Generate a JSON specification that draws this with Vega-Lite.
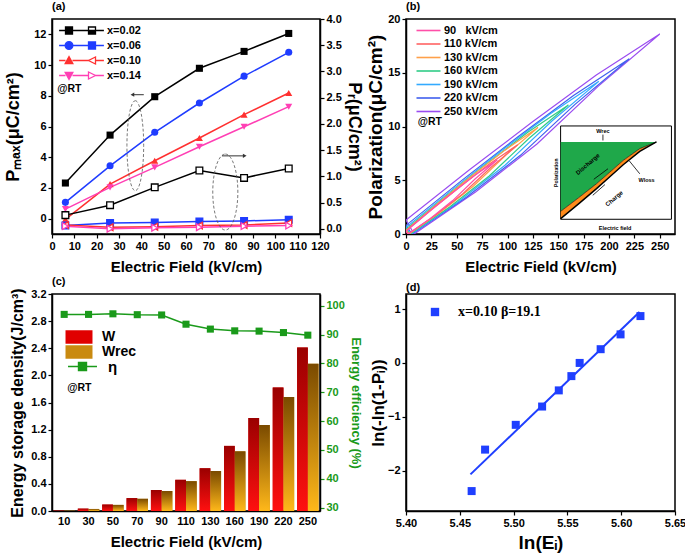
{
  "$schema": "https://vega.github.io/schema/vega-lite/v6.json",
  "padding": {"left": 4, "top": 0, "right": 5, "bottom": 0},
  "background": "white",
  "config": {
    "font": "Liberation Sans",
    "view": {"stroke": "black", "strokeWidth": 1.5},
    "axis": {"grid": false, "domainColor": "black", "domainWidth": 1.5, "tickColor": "black", "tickWidth": 1.2, "tickSize": 4, "labelFont": "Liberation Sans", "labelFontWeight": "bold", "labelFontSize": 11, "labelColor": "black", "labelPadding": 2, "labelFlush": false, "labelOverlap": false, "titleFont": "Liberation Sans", "titleFontWeight": "bold", "titleColor": "black", "titleFontSize": 15},
    "legend": {"labelFont": "Liberation Sans", "labelFontWeight": "bold", "labelFontSize": 11, "labelColor": "black", "padding": 0},
    "title": {"font": "Liberation Sans", "fontWeight": "bold", "fontSize": 11, "anchor": "start", "offset": 1, "frame": "group"},
    "point": {"opacity": 1}
  },
  "datasets": {
    "a": [
      {"s": "x=0.02", "E": 6, "Pmax": 2.32, "Pr": 0.26},
      {"s": "x=0.02", "E": 26, "Pmax": 5.44, "Pr": 0.45},
      {"s": "x=0.02", "E": 46, "Pmax": 7.94, "Pr": 0.79},
      {"s": "x=0.02", "E": 66, "Pmax": 9.79, "Pr": 1.11},
      {"s": "x=0.02", "E": 86, "Pmax": 10.89, "Pr": 0.97},
      {"s": "x=0.02", "E": 106, "Pmax": 12.06, "Pr": 1.15},
      {"s": "x=0.06", "E": 6, "Pmax": 1.06, "Pr": 0.06},
      {"s": "x=0.06", "E": 26, "Pmax": 3.44, "Pr": 0.11},
      {"s": "x=0.06", "E": 46, "Pmax": 5.62, "Pr": 0.12},
      {"s": "x=0.06", "E": 66, "Pmax": 7.53, "Pr": 0.14},
      {"s": "x=0.06", "E": 86, "Pmax": 9.28, "Pr": 0.15},
      {"s": "x=0.06", "E": 106, "Pmax": 10.83, "Pr": 0.17},
      {"s": "x=0.10", "E": 6, "Pmax": -0.05, "Pr": 0.07},
      {"s": "x=0.10", "E": 26, "Pmax": 2.25, "Pr": 0.03},
      {"s": "x=0.10", "E": 46, "Pmax": 3.77, "Pr": 0.04},
      {"s": "x=0.10", "E": 66, "Pmax": 5.25, "Pr": 0.06},
      {"s": "x=0.10", "E": 86, "Pmax": 6.77, "Pr": 0.07},
      {"s": "x=0.10", "E": 106, "Pmax": 8.18, "Pr": 0.11},
      {"s": "x=0.14", "E": 6, "Pmax": 0.62, "Pr": 0.05},
      {"s": "x=0.14", "E": 26, "Pmax": 2.04, "Pr": 0.0},
      {"s": "x=0.14", "E": 46, "Pmax": 3.34, "Pr": 0.02},
      {"s": "x=0.14", "E": 66, "Pmax": 4.68, "Pr": 0.03},
      {"s": "x=0.14", "E": 86, "Pmax": 5.98, "Pr": 0.05},
      {"s": "x=0.14", "E": 106, "Pmax": 7.29, "Pr": 0.06}
    ],
    "loops": [
      {"L": "250 kV/cm", "i": 0, "E": 250, "P": 18.6}, {"L": "250 kV/cm", "i": 1, "E": 187.5, "P": 14.79}, {"L": "250 kV/cm", "i": 2, "E": 125, "P": 10.47}, {"L": "250 kV/cm", "i": 3, "E": 62.5, "P": 5.97}, {"L": "250 kV/cm", "i": 4, "E": 0, "P": 1.3},
      {"L": "250 kV/cm", "i": 5, "E": 8, "P": 0}, {"L": "250 kV/cm", "i": 6, "E": 68.5, "P": 3.9}, {"L": "250 kV/cm", "i": 7, "E": 129, "P": 8.37}, {"L": "250 kV/cm", "i": 8, "E": 189.5, "P": 13.76}, {"L": "250 kV/cm", "i": 9, "E": 250, "P": 18.6},
      {"L": "220 kV/cm", "i": 0, "E": 220, "P": 16.3}, {"L": "220 kV/cm", "i": 1, "E": 165, "P": 12.89}, {"L": "220 kV/cm", "i": 2, "E": 110, "P": 9.02}, {"L": "220 kV/cm", "i": 3, "E": 55, "P": 4.99}, {"L": "220 kV/cm", "i": 4, "E": 0, "P": 0.8},
      {"L": "220 kV/cm", "i": 5, "E": 6, "P": 0}, {"L": "220 kV/cm", "i": 6, "E": 59.5, "P": 3.42}, {"L": "220 kV/cm", "i": 7, "E": 113, "P": 7.34}, {"L": "220 kV/cm", "i": 8, "E": 166.5, "P": 12.06}, {"L": "220 kV/cm", "i": 9, "E": 220, "P": 16.3},
      {"L": "190 kV/cm", "i": 0, "E": 190, "P": 14.2}, {"L": "190 kV/cm", "i": 1, "E": 142.5, "P": 11.21}, {"L": "190 kV/cm", "i": 2, "E": 95, "P": 7.81}, {"L": "190 kV/cm", "i": 3, "E": 47.5, "P": 4.27}, {"L": "190 kV/cm", "i": 4, "E": 0, "P": 0.6},
      {"L": "190 kV/cm", "i": 5, "E": 5, "P": 0}, {"L": "190 kV/cm", "i": 6, "E": 51.25, "P": 2.98}, {"L": "190 kV/cm", "i": 7, "E": 97.5, "P": 6.39}, {"L": "190 kV/cm", "i": 8, "E": 143.75, "P": 10.51}, {"L": "190 kV/cm", "i": 9, "E": 190, "P": 14.2},
      {"L": "160 kV/cm", "i": 0, "E": 160, "P": 12.0}, {"L": "160 kV/cm", "i": 1, "E": 120, "P": 9.46}, {"L": "160 kV/cm", "i": 2, "E": 80, "P": 6.57}, {"L": "160 kV/cm", "i": 3, "E": 40, "P": 3.57}, {"L": "160 kV/cm", "i": 4, "E": 0, "P": 0.45},
      {"L": "160 kV/cm", "i": 5, "E": 4, "P": 0}, {"L": "160 kV/cm", "i": 6, "E": 43, "P": 2.52}, {"L": "160 kV/cm", "i": 7, "E": 82, "P": 5.4}, {"L": "160 kV/cm", "i": 8, "E": 121, "P": 8.88}, {"L": "160 kV/cm", "i": 9, "E": 160, "P": 12.0},
      {"L": "130 kV/cm", "i": 0, "E": 130, "P": 9.9}, {"L": "130 kV/cm", "i": 1, "E": 97.5, "P": 7.8}, {"L": "130 kV/cm", "i": 2, "E": 65, "P": 5.41}, {"L": "130 kV/cm", "i": 3, "E": 32.5, "P": 2.93}, {"L": "130 kV/cm", "i": 4, "E": 0, "P": 0.35},
      {"L": "130 kV/cm", "i": 5, "E": 3, "P": 0}, {"L": "130 kV/cm", "i": 6, "E": 34.75, "P": 2.08}, {"L": "130 kV/cm", "i": 7, "E": 66.5, "P": 4.46}, {"L": "130 kV/cm", "i": 8, "E": 98.25, "P": 7.33}, {"L": "130 kV/cm", "i": 9, "E": 130, "P": 9.9},
      {"L": "110 kV/cm", "i": 0, "E": 110, "P": 8.3}, {"L": "110 kV/cm", "i": 1, "E": 82.5, "P": 6.54}, {"L": "110 kV/cm", "i": 2, "E": 55, "P": 4.54}, {"L": "110 kV/cm", "i": 3, "E": 27.5, "P": 2.46}, {"L": "110 kV/cm", "i": 4, "E": 0, "P": 0.3},
      {"L": "110 kV/cm", "i": 5, "E": 2, "P": 0}, {"L": "110 kV/cm", "i": 6, "E": 29, "P": 1.74}, {"L": "110 kV/cm", "i": 7, "E": 56, "P": 3.74}, {"L": "110 kV/cm", "i": 8, "E": 83, "P": 6.14}, {"L": "110 kV/cm", "i": 9, "E": 110, "P": 8.3},
      {"L": "90\u2007 kV/cm", "i": 0, "E": 90, "P": 6.9}, {"L": "90\u2007 kV/cm", "i": 1, "E": 67.5, "P": 5.44}, {"L": "90\u2007 kV/cm", "i": 2, "E": 45, "P": 3.77}, {"L": "90\u2007 kV/cm", "i": 3, "E": 22.5, "P": 2.05}, {"L": "90\u2007 kV/cm", "i": 4, "E": 0, "P": 0.25},
      {"L": "90\u2007 kV/cm", "i": 5, "E": 2, "P": 0}, {"L": "90\u2007 kV/cm", "i": 6, "E": 24, "P": 1.45}, {"L": "90\u2007 kV/cm", "i": 7, "E": 46, "P": 3.11}, {"L": "90\u2007 kV/cm", "i": 8, "E": 68, "P": 5.11}, {"L": "90\u2007 kV/cm", "i": 9, "E": 90, "P": 6.9}
    ],
    "inset": [
      {"E": 152.4, "up": 2.11, "lo": 1.43},
      {"E": 170, "up": 3.37, "lo": 2.8},
      {"E": 187.7, "up": 4.68, "lo": 4.22},
      {"E": 200, "up": 5.69, "lo": 5.26},
      {"E": 214, "up": 6.85, "lo": 6.45},
      {"E": 230.3, "up": 7.94, "lo": 7.69},
      {"E": 246.7, "up": 8.56, "lo": 8.56}
    ],
    "insetText": [
      {"t": "Wrec", "E": 194, "P": 9.55},
      {"t": "Wloss", "E": 237, "P": 5.0},
      {"t": "Electric field", "E": 206, "P": 0.55}
    ],
    "insetArrows": [
      {"x1": 194, "y1": 9.25, "x2": 194, "y2": 8.7},
      {"x1": 199, "y1": 6.07, "x2": 185, "y2": 5.09},
      {"x1": 184, "y1": 3.6, "x2": 196, "y2": 4.6},
      {"x1": 230.3, "y1": 5.6, "x2": 220, "y2": 6.8}
    ],
    "c": [
      {"E": "10", "s": "W", "v": 0.005}, {"E": "30", "s": "W", "v": 0.035}, {"E": "50", "s": "W", "v": 0.095}, {"E": "70", "s": "W", "v": 0.19}, {"E": "90", "s": "W", "v": 0.31}, {"E": "110", "s": "W", "v": 0.46}, {"E": "130", "s": "W", "v": 0.63}, {"E": "160", "s": "W", "v": 0.96}, {"E": "190", "s": "W", "v": 1.37}, {"E": "220", "s": "W", "v": 1.82}, {"E": "250", "s": "W", "v": 2.41},
      {"E": "10", "s": "Wrec", "v": 0.004}, {"E": "30", "s": "Wrec", "v": 0.03}, {"E": "50", "s": "Wrec", "v": 0.09}, {"E": "70", "s": "Wrec", "v": 0.18}, {"E": "90", "s": "Wrec", "v": 0.295}, {"E": "110", "s": "Wrec", "v": 0.44}, {"E": "130", "s": "Wrec", "v": 0.59}, {"E": "160", "s": "Wrec", "v": 0.88}, {"E": "190", "s": "Wrec", "v": 1.27}, {"E": "220", "s": "Wrec", "v": 1.68}, {"E": "250", "s": "Wrec", "v": 2.17}
    ],
    "eta": [
      {"E": "10", "eta": 97.0}, {"E": "30", "eta": 97.0}, {"E": "50", "eta": 97.2}, {"E": "70", "eta": 96.9}, {"E": "90", "eta": 96.8}, {"E": "110", "eta": 93.6}, {"E": "130", "eta": 91.9}, {"E": "160", "eta": 91.3}, {"E": "190", "eta": 91.2}, {"E": "220", "eta": 90.7}, {"E": "250", "eta": 89.8}
    ],
    "dpts": [
      {"x": 5.461, "y": -2.38}, {"x": 5.4735, "y": -1.61}, {"x": 5.502, "y": -1.15}, {"x": 5.5265, "y": -0.81}, {"x": 5.542, "y": -0.51}, {"x": 5.5537, "y": -0.245}, {"x": 5.5614, "y": 0.0}, {"x": 5.5809, "y": 0.255}, {"x": 5.5994, "y": 0.53}, {"x": 5.6179, "y": 0.87}
    ],
    "dfit": [
      {"x": 5.4599, "y": -2.07}, {"x": 5.617, "y": 0.946}
    ]
  },
  "columns": 2,
  "bounds": "flush",
  "align": "each",
  "spacing": {"row": 60, "column": 86},
  "resolve": {
    "scale": {"color": "independent", "fill": "independent", "stroke": "independent", "shape": "independent", "xOffset": "independent"},
    "legend": {"color": "independent", "fill": "independent", "stroke": "independent", "shape": "independent"}
  },
  "concat": [
    {
      "width": 268, "height": 215,
      "title": {"text": "(a)"},
      "layer": [
        {
          "data": {"name": "a"},
          "layer": [
            {"mark": {"type": "line", "strokeWidth": 1.5},
             "encoding": {
               "x": {"field": "E", "type": "quantitative", "scale": {"domain": [0, 120], "nice": false}, "axis": {"values": [0,10,20,30,40,50,60,70,80,90,100,110,120], "format": "d", "tickCount": 40, "labelOverlap": false, "title": "Electric Field (kV/cm)", "titlePadding": 8}},
               "y": {"field": "Pmax", "type": "quantitative", "scale": {"domain": [-1, 13], "nice": false}, "axis": {"values": [0,2,4,6,8,10,12], "format": "d", "tickCount": 40, "labelOverlap": false, "title": "Pₘₐₓ(μC/cm²)", "titleFontSize": 18, "titlePadding": 11}},
               "color": {"field": "s", "type": "nominal", "scale": {"domain": ["x=0.02","x=0.06","x=0.10","x=0.14"], "range": ["#000000","#1f3cff","#ff3030","#ff3fb4"]}, "legend": null}}},
            {"mark": {"type": "point", "filled": true, "size": 50, "opacity": 1},
             "encoding": {
               "x": {"field": "E", "type": "quantitative"},
               "y": {"field": "Pmax", "type": "quantitative"},
               "color": {"field": "s", "type": "nominal", "legend": null},
               "shape": {"field": "s", "type": "nominal", "scale": {"domain": ["x=0.02","x=0.06","x=0.10","x=0.14"], "range": ["square","circle","triangle-up","triangle-down"]}, "legend": null}}},
            {"data": {"values": [{}]},
             "mark": {"type": "point", "shape": "M 0 -1 A 0.186 1 0 0 1 0 1 A 0.186 1 0 0 1 0 -1 Z", "size": 8100, "filled": false, "color": "#555555", "strokeWidth": 0.8, "strokeDash": [3, 2], "opacity": 1},
             "encoding": {"x": {"datum": 37.3, "type": "quantitative"}, "y": {"datum": 4.75, "type": "quantitative"}}},
            {"data": {"values": [{}]},
             "mark": {"type": "rule", "color": "#333333", "strokeWidth": 1},
             "encoding": {"x": {"datum": 41.1, "type": "quantitative"}, "x2": {"datum": 36.6}, "y": {"datum": 8.07, "type": "quantitative"}}},
            {"data": {"values": [{}]},
             "mark": {"type": "point", "shape": "triangle-left", "size": 18, "filled": true, "color": "#333333", "opacity": 1},
             "encoding": {"x": {"datum": 36.0, "type": "quantitative"}, "y": {"datum": 8.07, "type": "quantitative"}}},
            {"data": {"values": [{}]},
             "mark": {"type": "text", "text": "@RT", "align": "left", "baseline": "middle", "fontWeight": "bold", "fontSize": 10.5},
             "encoding": {"x": {"datum": 2.3, "type": "quantitative"}, "y": {"datum": 8.44, "type": "quantitative"}}}
          ]
        },
        {
          "data": {"name": "a"},
          "layer": [
            {"mark": {"type": "line", "strokeWidth": 1.5},
             "encoding": {
               "x": {"field": "E", "type": "quantitative"},
               "y": {"field": "Pr", "type": "quantitative", "scale": {"domain": [-0.1, 4.0], "nice": false}, "axis": {"orient": "right", "values": [0,0.5,1,1.5,2,2.5,3,3.5,4], "tickCount": 40, "labelOverlap": false, "format": ".1f", "title": "Pᵣ(μC/cm²)", "titleFontSize": 18, "titlePadding": 3}},
               "color": {"field": "s", "type": "nominal", "legend": null}}},
            {"mark": {"type": "point", "filled": true, "size": 45, "strokeWidth": 1.3, "opacity": 1},
             "encoding": {
               "x": {"field": "E", "type": "quantitative"},
               "y": {"field": "Pr", "type": "quantitative"},
               "fill": {"field": "s", "type": "nominal", "scale": {"domain": ["x=0.02","x=0.06","x=0.10","x=0.14"], "range": ["#ffffff","#1f3cff","#ffffff","#ffffff"]}, "legend": null},
               "stroke": {"field": "s", "type": "nominal", "scale": {"domain": ["x=0.02","x=0.06","x=0.10","x=0.14"], "range": ["#000000","#1f3cff","#ff3030","#ff3fb4"]}, "legend": null},
               "shape": {"field": "s", "type": "nominal", "scale": {"domain": ["x=0.02","x=0.06","x=0.10","x=0.14"], "range": ["square","square","triangle-left","triangle-right"]}, "legend": null}}},
            {"data": {"values": [{}]},
             "mark": {"type": "point", "shape": "M 0 -1 A 0.33 1 0 0 1 0 1 A 0.33 1 0 0 1 0 -1 Z", "size": 5776, "filled": false, "color": "#555555", "strokeWidth": 0.8, "strokeDash": [3, 2], "opacity": 1},
             "encoding": {"x": {"datum": 77.6, "type": "quantitative"}, "y": {"datum": 0.70, "type": "quantitative"}}},
            {"data": {"values": [{}]},
             "mark": {"type": "rule", "color": "#333333", "strokeWidth": 1},
             "encoding": {"x": {"datum": 76.1, "type": "quantitative"}, "x2": {"datum": 85.8}, "y": {"datum": 1.39, "type": "quantitative"}}},
            {"data": {"values": [{}]},
             "mark": {"type": "point", "shape": "triangle-right", "size": 18, "filled": true, "color": "#333333", "opacity": 1},
             "encoding": {"x": {"datum": 86.3, "type": "quantitative"}, "y": {"datum": 1.39, "type": "quantitative"}}}
          ]
        },
        {
          "data": {"name": "a"},
          "mark": {"type": "point", "filled": true, "opacity": 0, "size": 49},
          "encoding": {
            "x": {"field": "E", "type": "quantitative"},
            "y": {"field": "Pmax", "type": "quantitative", "scale": {"domain": [-1, 13], "nice": false}, "axis": null},
            "fill": {"field": "s", "type": "nominal", "scale": {"domain": ["x=0.02","x=0.06","x=0.10","x=0.14"], "range": ["#000000","#1f3cff","#ff3030","#ff3fb4"]},
              "legend": {"orient": "none", "legendX": 24, "legendY": 6, "title": null, "symbolOpacity": 1, "symbolStrokeWidth": 1.3, "symbolSize": 49, "labelOffset": 20, "rowPadding": 2, "labelFontSize": 11}},
            "stroke": {"field": "s", "type": "nominal", "scale": {"domain": ["x=0.02","x=0.06","x=0.10","x=0.14"], "range": ["#000000","#1f3cff","#ff3030","#ff3fb4"]},
              "legend": {"orient": "none", "legendX": 24, "legendY": 6, "title": null, "symbolOpacity": 1, "symbolStrokeWidth": 1.3, "symbolSize": 49, "labelOffset": 20, "rowPadding": 2, "labelFontSize": 11}},
            "shape": {"field": "s", "type": "nominal", "scale": {"domain": ["x=0.02","x=0.06","x=0.10","x=0.14"], "range": [
              "M -6.4 0 H -4.57 M -2.57 0 H 2 M 4 0 H 6.4 M -4.57 -1 H -2.57 V 1 H -4.57 Z M 2 0 H 4 V 1 H 2 Z M 2 -1 H 4 V 0 H 2 Z M 2 -1 V 0 H 4 V -1 Z",
              "M -6.4 0 H -4.67 M -2.47 0 H 2 M 4 0 H 6.4 M -4.67 0 A 1.1 1.1 0 1 0 -2.47 0 A 1.1 1.1 0 1 0 -4.67 0 Z M 2 -1 H 4 V 1 H 2 Z",
              "M -6.4 0 H -4.57 M -2.57 0 H 2 M 4 0 H 6.4 M -3.57 -1.1 L -2.47 0.9 H -4.67 Z M 2 0 L 4 -1 V 1 Z M 2 0 L 4 1 V -1 Z",
              "M -6.4 0 H -4.57 M -2.57 0 H 2 M 4 0 H 6.4 M -4.67 -0.9 H -2.47 L -3.57 1.1 Z M 4 0 L 2 -1 V 1 Z M 4 0 L 2 1 V -1 Z"
            ]},
              "legend": {"orient": "none", "legendX": 24, "legendY": 6, "title": null, "symbolOpacity": 1, "symbolStrokeWidth": 1.3, "symbolSize": 49, "labelOffset": 20, "rowPadding": 2, "labelFontSize": 11}}
          }
        }
      ],
      "resolve": {"scale": {"y": "independent", "shape": "independent", "fill": "independent", "stroke": "independent"}}
    },
    {
      "width": 269, "height": 215,
      "title": {"text": "(b)"},
      "layer": [
        {"data": {"name": "loops"},
         "mark": {"type": "line", "strokeWidth": 1.2, "clip": true},
         "encoding": {
           "x": {"field": "E", "type": "quantitative", "scale": {"domain": [0, 265], "nice": false}, "axis": {"values": [0,25,50,75,100,125,150,175,200,225,250], "format": "d", "tickCount": 40, "labelOverlap": false, "title": "Electric Field (kV/cm)", "titlePadding": 8}},
           "y": {"field": "P", "type": "quantitative", "scale": {"domain": [0, 20], "nice": false}, "axis": {"values": [0,5,10,15,20], "format": "d", "tickCount": 40, "labelOverlap": false, "title": "Polarization(μC/cm²)", "titleFontSize": 19, "titlePadding": 2}},
           "color": {"field": "L", "type": "nominal",
             "scale": {"domain": ["90\u2007 kV/cm","110 kV/cm","130 kV/cm","160 kV/cm","190 kV/cm","220 kV/cm","250 kV/cm"], "range": ["#ff4fa8","#ff6262","#ffa04a","#30cc88","#33aaff","#4060ee","#9a4cf0"]},
             "legend": {"orient": "none", "legendX": 17, "legendY": 6, "title": null, "symbolType": "M -3 0 H 3", "symbolSize": 64, "symbolStrokeWidth": 1.6, "labelOffset": 10, "rowPadding": 1.5, "labelFontSize": 11}},
           "order": {"field": "i", "type": "quantitative"}}},
        {"data": {"values": [{}]},
         "mark": {"type": "rect", "fill": "white", "stroke": "black", "strokeWidth": 1},
         "encoding": {"x": {"datum": 152.3, "type": "quantitative"}, "x2": {"datum": 261.5}, "y": {"datum": 1.37, "type": "quantitative"}, "y2": {"datum": 10.05}}},
        {"data": {"name": "inset"},
         "mark": {"type": "area", "color": "#1fa84a", "opacity": 1},
         "encoding": {"x": {"field": "E", "type": "quantitative"}, "y": {"field": "up", "type": "quantitative"}, "y2": {"datum": 8.56}}},
        {"data": {"name": "inset"},
         "mark": {"type": "area", "color": "#ff8a1a", "opacity": 1},
         "encoding": {"x": {"field": "E", "type": "quantitative"}, "y": {"field": "lo", "type": "quantitative"}, "y2": {"field": "up"}}},
        {"data": {"name": "inset"},
         "mark": {"type": "line", "color": "black", "strokeWidth": 1.4},
         "encoding": {"x": {"field": "E", "type": "quantitative"}, "y": {"field": "lo", "type": "quantitative"}}},
        {"data": {"name": "inset"},
         "mark": {"type": "line", "color": "black", "strokeWidth": 0.6},
         "encoding": {"x": {"field": "E", "type": "quantitative"}, "y": {"field": "up", "type": "quantitative"}}},
        {"data": {"name": "insetArrows"},
         "mark": {"type": "rule", "color": "black", "strokeWidth": 0.8},
         "encoding": {"x": {"field": "x1", "type": "quantitative"}, "y": {"field": "y1", "type": "quantitative"}, "x2": {"field": "x2"}, "y2": {"field": "y2"}}},
        {"data": {"name": "insetText"},
         "mark": {"type": "text", "fontSize": 5.5, "fontWeight": "bold", "color": "black"},
         "encoding": {"x": {"field": "E", "type": "quantitative"}, "y": {"field": "P", "type": "quantitative"}, "text": {"field": "t"}}},
        {"data": {"values": [{"t": "Discharge", "E": 179, "P": 6.5}, {"t": "Charge", "E": 205, "P": 3.3}]},
         "mark": {"type": "text", "fontSize": 6, "fontWeight": "bold", "color": "black", "angle": 319},
         "encoding": {"x": {"field": "E", "type": "quantitative"}, "y": {"field": "P", "type": "quantitative"}, "text": {"field": "t"}}},
        {"data": {"values": [{"t": "Polarization", "E": 147.5, "P": 5.7}]},
         "mark": {"type": "text", "fontSize": 5, "fontWeight": "bold", "color": "black", "angle": 270},
         "encoding": {"x": {"field": "E", "type": "quantitative"}, "y": {"field": "P", "type": "quantitative"}, "text": {"field": "t"}}},
        {"data": {"values": [{}]},
         "mark": {"type": "text", "text": "@RT", "align": "left", "baseline": "middle", "fontWeight": "bold", "fontSize": 10.5},
         "encoding": {"x": {"datum": 11.5, "type": "quantitative"}, "y": {"datum": 10.4, "type": "quantitative"}}}
      ]
    },
    {
      "width": 268, "height": 217,
      "title": {"text": "(c)"},
      "layer": [
        {
          "layer": [
            {"data": {"name": "c"},
             "mark": {"type": "bar"},
             "encoding": {
               "x": {"field": "E", "type": "nominal", "scale": {"domain": ["10","30","50","70","90","110","130","160","190","220","250"], "paddingInner": 0.12, "paddingOuter": 0.06}, "axis": {"labelAngle": 0, "ticks": false, "labelPadding": 4, "labelOverlap": false, "title": "Electric Field (kV/cm)", "titlePadding": 8}},
               "xOffset": {"field": "s", "type": "nominal", "scale": {"domain": ["W", "Wrec"]}},
               "y": {"field": "v", "type": "quantitative", "scale": {"domain": [0, 3.2], "nice": false}, "axis": {"values": [0,0.4,0.8,1.2,1.6,2.0,2.4,2.8,3.2], "tickCount": 40, "labelOverlap": false, "format": ".1f", "title": "Energy storage density(J/cm³)", "titleFontSize": 16, "titlePadding": 5}},
               "fill": {"field": "s", "type": "nominal", "scale": {"domain": ["W", "Wrec"], "range": ["#e00000", "#c98a10"]},
                 "legend": {"orient": "none", "legendX": 20, "legendY": 36, "title": null, "symbolType": "M -2 -1 H 2 V 1 H -2 Z", "symbolSize": 182, "symbolStrokeWidth": 0, "symbolOpacity": 1, "labelOffset": 16, "labelFontSize": 14, "rowPadding": 1}}}},
            {"data": {"name": "c"},
             "mark": {"type": "bar"},
             "encoding": {
               "x": {"field": "E", "type": "nominal"},
               "xOffset": {"field": "s", "type": "nominal"},
               "y": {"field": "v", "type": "quantitative"},
               "fill": {"condition": {"test": "datum.s === 'W'", "value": {"gradient": "linear", "x1": 0, "y1": 0, "x2": 0, "y2": 1, "stops": [{"offset": 0, "color": "#9a0000"}, {"offset": 1, "color": "#ff1010"}]}},
                        "value": {"gradient": "linear", "x1": 0, "y1": 0, "x2": 0, "y2": 1, "stops": [{"offset": 0, "color": "#7a4a00"}, {"offset": 1, "color": "#ffb81a"}]}}}},
            {"data": {"values": [{}]},
             "mark": {"type": "text", "text": "@RT", "align": "left", "baseline": "middle", "fontWeight": "bold", "fontSize": 10.5, "dx": 3},
             "encoding": {"x": {"datum": "10", "type": "nominal"}, "y": {"datum": 1.82, "type": "quantitative"}}}
          ]
        },
        {
          "data": {"name": "eta"},
          "layer": [
            {"mark": {"type": "line", "strokeWidth": 1.5},
             "encoding": {
               "x": {"field": "E", "type": "nominal"},
               "y": {"field": "eta", "type": "quantitative", "scale": {"domain": [28.84, 104.07], "nice": false, "zero": false}, "axis": {"orient": "right", "values": [30,40,50,60,70,80,90,100], "format": "d", "tickCount": 40, "labelOverlap": false, "title": "Energy efficiency (%)", "titleColor": "#1a9a1a", "labelColor": "#1a9a1a", "tickColor": "#1a9a1a", "titleFontSize": 13, "titlePadding": 4}},
               "color": {"datum": "η", "type": "nominal", "scale": {"range": ["#1a9a1a"]},
                 "legend": {"orient": "none", "legendX": 23, "legendY": 65, "title": null, "symbolType": "M -3.3 0 H 3.3 M -0.9 -0.9 H 0.9 V 0.9 H -0.9 Z", "symbolSize": 77, "symbolFillColor": "#1a9a1a", "symbolStrokeColor": "#1a9a1a", "symbolStrokeWidth": 1.5, "symbolOpacity": 1, "labelOffset": 18, "labelFontSize": 15}}}},
            {"mark": {"type": "point", "shape": "square", "filled": true, "size": 50, "opacity": 1},
             "encoding": {
               "x": {"field": "E", "type": "nominal"},
               "y": {"field": "eta", "type": "quantitative"},
               "color": {"datum": "η", "type": "nominal",
                 "legend": {"orient": "none", "legendX": 23, "legendY": 65, "title": null, "symbolType": "M -3.3 0 H 3.3 M -0.9 -0.9 H 0.9 V 0.9 H -0.9 Z", "symbolSize": 77, "symbolFillColor": "#1a9a1a", "symbolStrokeColor": "#1a9a1a", "symbolStrokeWidth": 1.5, "symbolOpacity": 1, "labelOffset": 18, "labelFontSize": 15}}}}
          ]
        }
      ],
      "resolve": {"scale": {"y": "independent"}}
    },
    {
      "width": 269, "height": 217,
      "title": {"text": "(d)"},
      "layer": [
        {"data": {"name": "dfit"},
         "mark": {"type": "line", "color": "#1f3fff", "strokeWidth": 2},
         "encoding": {
           "x": {"field": "x", "type": "quantitative", "scale": {"domain": [5.40, 5.65], "nice": false, "zero": false}, "axis": {"values": [5.40,5.45,5.50,5.55,5.60,5.65], "tickCount": 40, "labelOverlap": false, "format": ".2f", "title": "ln(Eᵢ)", "titleFontSize": 19, "titlePadding": 5}},
           "y": {"field": "y", "type": "quantitative", "scale": {"domain": [-2.75, 1.28], "nice": false, "zero": false}, "axis": {"values": [-2,-1,0,1], "format": "d", "tickCount": 40, "labelOverlap": false, "title": "ln(-ln(1-Pᵢ))", "titleFontSize": 17, "titlePadding": 0}}}},
        {"data": {"name": "dpts"},
         "mark": {"type": "point", "shape": "square", "filled": true, "size": 64, "opacity": 1},
         "encoding": {
           "x": {"field": "x", "type": "quantitative"},
           "y": {"field": "y", "type": "quantitative"},
           "color": {"datum": "x=0.10 β=19.1", "type": "nominal", "scale": {"range": ["#1f3fff"]},
             "legend": {"orient": "none", "legendX": 22, "legendY": 11, "title": null, "symbolType": "square", "symbolSize": 70, "symbolOpacity": 1, "labelFont": "Liberation Serif", "labelFontSize": 14, "labelOffset": 16}}}}
      ]
    }
  ]
}
